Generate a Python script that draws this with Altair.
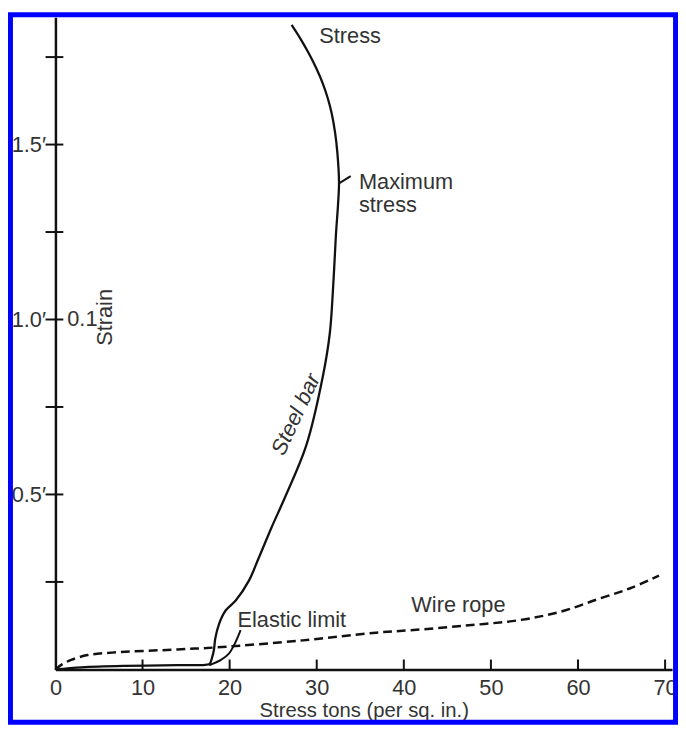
import altair as alt
import pandas as pd

# ---- data ----
steel_x = [0, 3, 8, 14, 17.2, 17.7, 18.0, 18.2, 18.35, 18.8, 19.56, 20.7, 22.2, 23.35, 24.8, 26.4,
           28.8, 30.7, 31.5, 31.9, 32.2, 32.45, 32.56, 32.37, 32.11, 31.71, 31.26, 30.69, 29.95, 29.10, 28.14, 27.12]
steel_y = [0, 0.006, 0.010, 0.012, 0.013, 0.016, 0.035, 0.056, 0.088, 0.131, 0.169, 0.197, 0.253, 0.319, 0.405, 0.494,
           0.64, 0.837, 0.96, 1.10, 1.24, 1.33, 1.393, 1.477, 1.534, 1.590, 1.633, 1.675, 1.718, 1.760, 1.802, 1.842]

elastic_x = [17.67, 19.0, 19.94, 20.7, 21.26]
elastic_y = [0.012, 0.027, 0.046, 0.079, 0.112]

wire_x = [0, 0.8, 1.8, 3.7, 6.5, 14, 18.5, 28.4, 36.8, 40.8, 47, 53.3, 58, 62.2, 66, 69.3]
wire_y = [0, 0.015, 0.027, 0.041, 0.048, 0.057, 0.063, 0.083, 0.105, 0.112, 0.125, 0.141, 0.165, 0.20, 0.232, 0.268]

maxmark_x = [32.6, 33.9]
maxmark_y = [1.39, 1.41]

x_tick_values = [10, 20, 30, 40, 50, 60, 70]
x_label_values = [0, 10, 20, 30, 40, 50, 60, 70]
y_tick_values = [0.25, 0.5, 0.75, 1.0, 1.25, 1.5, 1.75]
y_label_values = [0.5, 1.0, 1.5]

ann_text = ["Stress", "Maximum", "stress", "Elastic limit", "Wire rope", "0.1"]
ann_x = [30.3, 34.85, 34.85, 20.9, 40.86, 1.36]
ann_y = [1.811, 1.393, 1.328, 0.141, 0.185, 1.0]

strain_text = ["Strain"]
strain_x = [5.68]
strain_y = [1.006]

steel_label = ["Steel bar"]
steel_label_x = [27.6]
steel_label_y = [0.729]

# ---- layout ----
W, H = 624, 660
FONT = "Liberation Sans"
TXT = "#333333"

xscale = alt.Scale(domain=[0, 70.8], nice=False, zero=False)
yscale = alt.Scale(domain=[0, 1.864], nice=False, zero=False)

x_axis = alt.Axis(values=x_label_values, title="Stress tons (per sq. in.)", ticks=False, grid=False,
                  domainColor="#111111", domainWidth=2.5, labelFontSize=22, labelFont=FONT,
                  labelColor=TXT, labelPadding=8, labelFlush=False, titleFont=FONT, titleFontSize=20.5,
                  titleFontWeight="normal", titleColor=TXT, titlePadding=3)
y_axis = alt.Axis(values=y_label_values, title=None, ticks=False, grid=False,
                  labelExpr="format(datum.value, '.1f') + '′'",
                  domainColor="#111111", domainWidth=2.5, labelFontSize=22, labelFont=FONT,
                  labelColor=TXT, labelPadding=10)

X = alt.X("x:Q", scale=xscale, axis=x_axis)
Y = alt.Y("y:Q", scale=yscale, axis=y_axis)

def line_df(xs, ys):
    return pd.DataFrame({"x": xs, "y": ys, "i": list(range(len(xs)))})

steel = alt.Chart(line_df(steel_x, steel_y)).mark_line(color="#111111", strokeWidth=2.3, interpolate="catmull-rom").encode(
    x=X, y=Y, order="i:Q")
elastic = alt.Chart(line_df(elastic_x, elastic_y)).mark_line(color="#111111", strokeWidth=2.0, interpolate="catmull-rom").encode(
    x=X, y=Y, order="i:Q")
wire = alt.Chart(line_df(wire_x, wire_y)).mark_line(color="#111111", strokeWidth=2.5, strokeDash=[9, 5],
                                                    interpolate="catmull-rom").encode(x=X, y=Y, order="i:Q")
maxmark = alt.Chart(line_df(maxmark_x, maxmark_y)).mark_line(color="#111111", strokeWidth=2.0).encode(
    x=X, y=Y, order="i:Q")

xt = alt.Chart(pd.DataFrame({"x": x_tick_values})).mark_rule(color="#111111", strokeWidth=2).encode(
    x=X, y=alt.value(H - 10), y2=alt.value(H))
yt = alt.Chart(pd.DataFrame({"y": y_tick_values})).mark_rule(color="#111111", strokeWidth=2).encode(
    y=Y, x=alt.value(-10), x2=alt.value(8))

ann = alt.Chart(pd.DataFrame({"x": ann_x, "y": ann_y, "t": ann_text})).mark_text(
    align="left", baseline="middle", font=FONT, fontSize=22, color=TXT).encode(x=X, y=Y, text="t:N")
strain = alt.Chart(pd.DataFrame({"x": strain_x, "y": strain_y, "t": strain_text})).mark_text(
    align="center", baseline="middle", font=FONT, fontSize=22, color=TXT, angle=270).encode(x=X, y=Y, text="t:N")
steel_lab = alt.Chart(pd.DataFrame({"x": steel_label_x, "y": steel_label_y, "t": steel_label})).mark_text(
    align="center", baseline="middle", font=FONT, fontSize=22, color=TXT, angle=295, fontStyle="italic").encode(
    x=X, y=Y, text="t:N")

frame = alt.Chart(pd.DataFrame({"k": [0]})).mark_rect(fillOpacity=0, stroke="#0000ff", strokeWidth=5).encode(
    x=alt.value(-45.5), x2=alt.value(627.5), y=alt.value(-2.5), y2=alt.value(713.5))

chart = alt.layer(steel, elastic, wire, maxmark, xt, yt, ann, strain, steel_lab, frame).properties(
    width=W, height=H,
    autosize=alt.AutoSizeParams(type="none"),
    padding={"left": 48, "top": 5, "right": 6, "bottom": 56},
    background="white",
).configure_view(stroke=None)

chart.save("out.html", embed_options={"renderer": "svg", "actions": False})
